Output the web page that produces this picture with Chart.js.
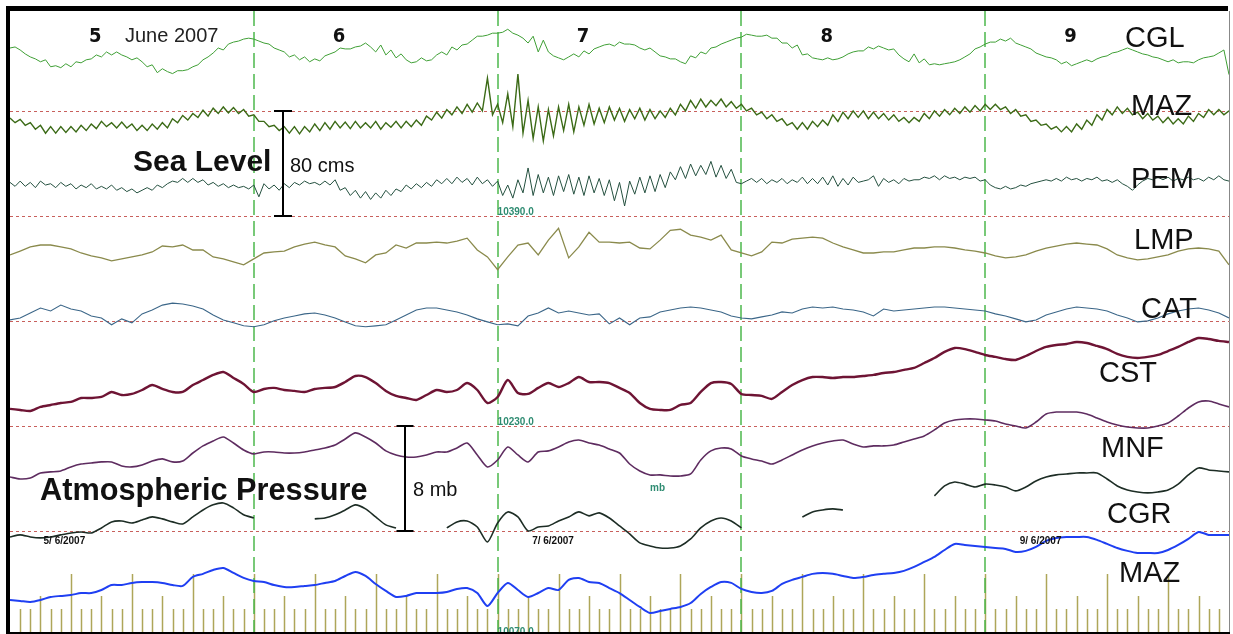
<!DOCTYPE html>
<html>
<head>
<meta charset="utf-8">
<script src="https://cdn.jsdelivr.net/npm/chart.js@4.4.1/dist/chart.umd.min.js"></script>
<style>
  html, body { margin: 0; padding: 0; background: #fff; }
  canvas { display: block; }
</style>
</head>
<body>
<canvas id="c" width="1233" height="634"></canvas>
<script>
// Sea level (cm about each station's mean) and barometric pressure (mb)
// at the tide gauges, 5-9 June 2007. Time runs in hours from 00:00 on 5 June.
const days = [5, 6, 7, 8, 9];
const dayStartsH = [24, 48, 72, 96];
const refLevelsMb = [1015, 1023, 1031, 1039, 1047];
const pressureLabelLevelsMb = [1039, 1023, 1007];
const dateLabels = ['5/ 6/2007', '7/ 6/2007', '9/ 6/2007'];
const dateLabelHours = [3.3, 51.4, 99.4];
const seaStepH = 0.5;
const hourlyStepH = 1;
const cmPerMb = 10;          // 80 cm of sea level drawn as tall as 8 mb

// Sea level, half-hourly, cm
const cglCm = [3,3.8,1.5,-1.5,-3.8,-5.3,-7.5,-6,-11.3,-10.5,
 -12,-9,-11.3,-7.5,-8.3,-6,-5.3,-2.3,-3.8,0,
 -2.3,0,-2.3,-3.8,-6,-4.5,-7.5,-11.3,-9.8,-15.8,
 -12.8,-15,-16.5,-14.3,-14.3,-13.5,-11.3,-9.8,-6,-3.8,
 -0.8,3,1.5,6,7.5,8.3,9.8,10.5,9.8,8.3,
 6.8,6,3,1.5,0,-3.8,-2.3,-6,-3.8,-7.5,
 -5.3,-6.8,-3,-1.5,0,3,2.3,2.3,3.8,4.5,
 6.8,3.8,0,5.3,-2.3,1.5,-4.5,-1.5,-6,-8.3,
 -7.5,-4.5,-6.8,-6,-2.3,0,-2.3,3.8,1.5,5.3,
 6,9,12,12,12.8,14.3,14.3,15,17.3,14.3,
 12.8,10.5,6.8,12,0,9,0,-3,-4.5,-6,
 -3.8,-1.5,-3.8,0.8,-1.5,2.3,3.8,5.3,6,4.5,
 7.5,6,6,5.3,3,1.5,3,0,-3,-3.8,
 -5.3,-5.3,-7.5,-9,-3,-4.5,0,-1.5,3,3.8,
 6,7.5,9,10.5,11.3,13.5,12.8,12,12,12.8,
 10.5,10.5,6.8,6.8,3,5.3,-2.3,-1.5,-4.5,-5.3,
 -6,-4.5,-6,-5.3,-3.8,-1.5,0,0.8,0.8,3.8,
 2.3,4.5,3,1.5,2.3,-2.3,-5.3,-7.5,-1.5,-8.3,
 -5.3,-9.8,-9,-9.8,-9,-8.3,-7.5,-6,-3.8,-1.5,
 2.3,3.8,6,7.5,7.5,9.8,8.3,10.5,6.8,5.3,
 3.8,2.3,-0.8,-2.3,-3.8,-4.5,-6,-9,-7.5,-10.5,
 -9,-7.5,-6,-7.5,-5.3,-3.8,-3,-0.8,0,1.5,
 3,1.5,0,-1.5,-2.3,-3.8,-4.5,-6,-7.5,-6,
 -8.3,-7.5,-7.5,-8.3,-6,-4.5,-3.8,-3,-0.8,1.5,
 -17.3];

const mazCm = [1.5,-2,0.5,-4,-2,-7,-4,-10,-5,-10,
 -5,-9.5,-5,-9,-4,-8,-3,-6.5,-1,-5,
 -2,-6,-1.5,-6,-3,-8,-4,-8,-3,-7,
 -2,-6,1,-2,3.5,0,5,2,7.5,3,
 9,5,10,5.5,9.5,5,8,3,4,-1,
 -1,-5,-4,-8,-5,-10,-5,-10.5,-5,-9,
 -3,-8,-2,-7,-1,-6,-1.5,-6.5,-1,-6,
 -2,-6,-1,-7,-2,-5.5,-1,-6,-1,-5,
 0,-4,3,0,6,1.5,8,4,10,5,
 12,6,13,7,32,4,12,-2,20,-5,
 35,-10,15,-14,10,-16,8,-12,10,-8,
 12,-9,10,-4,12,-3,9,-2,10,0,
 9,-1,8,1,9,0,8,1,7,2,
 9,4,12,7,15,9,16,10,15,11,
 16,10,14,9,12,7,9,4,6,1,
 4,-1,1,-4,-2,-7,-2,-7,-1,-5,
 0,-4,4,-1,6,1,7,2,7,1,
 6,1,5,0,4,-1,2,-2,2,-1,
 5,1,7,3,8,4,9,5,10,6,
 11,7,12,8,12,8,10,5,8,3,
 4,-1,0,-4,-3,-7,-5,-9,-5,-9,
 -3,-7,0,-4,4,0,8,4,10,5,
 9,4,6,1,5,0,3,-2,2,-3,
 1,-3,3,-1,5,2,8,4,8,4,
 7];

const pemCm = [2,-1,3,-1,2,-2,3,0,1,-2,
 2,-1,1,-3,0,-2,1,-3,-1,-3,
 0,-4,-2,-5,-3,-6,-4,-2,-4,0,
 -2,1,3,2,5,2,5,2,4,0,
 2,-1,1,-2,0,-2,-1,-3,0,-9,
 1,-3,0,-4,1,-2,2,0,3,1,
 2,0,3,0,4,-4,-2,-8,-4,-10,
 -5,-11,-6,-10,-4,-8,-3,-5,0,-3,
 1,-2,2,-1,4,1,5,1,6,2,
 5,0,6,1,4,-1,3,-8,0,-10,
 4,-6,13,-8,8,-6,6,-8,7,-5,
 8,-7,6,-8,7,-6,5,-8,4,-12,
 2,-16,3,-7,6,-6,7,-5,8,-2,
 10,4,14,5,16,7,15,8,18,6,
 15,5,12,2,1,3,5,2,5,1,
 4,2,5,1,4,2,6,1,5,1,
 6,0,7,-1,5,0,6,2,3,4,
 7,-1,5,2,4,1,5,3,4,4,
 6,5,7,4,7,5,6,4,6,5,
 6,3,4,0,-2,-3,-1,-3,-2,0,
 -1,1,2,3,4,3,5,3,6,4,
 5,3,5,4,6,3,4,2,4,1,
 -1,-4,0,3,5,4,6,4,6,3,
 5,4,6,4,5,3,6,4,7,4,
 3];

// Sea level, hourly, cm
const lmpCm = [-3.8,-0.8,2.3,3.8,3.8,2.3,0.8,-2.3,-4.5,-6,
 -8.3,-6.8,-5.3,-3.8,-1.5,3,2.3,3.8,0,0,
 -5.3,-6.8,-9,-11.3,-6.8,-2.3,-1.5,-0.8,2.3,4.5,
 6,3.8,2.3,-4.5,-6.8,-9.8,-3.8,-2.3,3.8,1.5,
 5.3,5.3,6,5.3,6.8,9,0,-5.3,-15,-5.3,
 3.8,5.3,-3.8,7.5,16.5,-6,2.3,13.5,6,6,
 5.3,6,1.5,0.8,7.5,15,15.8,11.3,9.8,7.5,
 11.3,0,-2.3,-4.5,-1.5,6,5.3,8.3,9,9.8,
 9,5.3,2.3,0,-2.3,-2.3,-1.5,-1.5,0,1.5,
 1.5,2.3,2.3,1.5,0,-0.8,-2.3,-4.5,-6,-5.3,
 -3.8,-0.8,1.5,3,4.5,5.3,4.5,3.8,0.8,-3.8,
 -6,-7.5,-6.8,-5.3,-3.8,-0.8,0.8,1.5,0.8,-0.8,
 -11.3];

const catCm = [-3.8,-2.3,1.5,5.3,3,7.5,4.5,3,-0.8,-2.3,
 -7.5,-3,-6,0.8,3.8,7.5,9,8.3,6.8,4.5,
 0,-3.8,-6,-8.3,-9,-7.5,-4.5,-2.3,-0.8,0.8,
 1.5,0,-2.3,-5.3,-8.3,-9,-8.3,-7.5,-3.8,0,
 3.8,5.3,5.3,3.8,2.3,0,-3,-5.3,-7.5,-6.8,
 -8.3,-0.8,1.5,5.3,1.5,3,1.5,0,0.8,-6.8,
 -2.3,-7.5,-2.3,-1.5,2.3,3.8,5.3,6,5.3,3.8,
 2.3,-0.8,-2.3,-3,-1.5,0,2.3,1.5,4.5,6,
 5.3,6,4.5,3.8,2.3,-0.8,4.5,3,3.8,4.5,
 5.3,6,6,5.3,4.5,3.8,3,0.8,-0.8,-3,
 -5.3,-3.8,0,2.3,4.5,6,5.3,4.5,3,0,
 -2.3,-5.3,-4.5,-2.3,0.8,3,4.5,5.3,3.8,1.5,
 -2.3];

// Barometric pressure, hourly, mb
const cstMb = [1024.30,1024.22,1024.14,1024.45,1024.60,1024.75,1024.83,1025.13,1025.13,1025.21,
 1025.59,1025.36,1025.44,1025.74,1026.12,1025.82,1025.59,1025.59,1026.12,1026.50,
 1026.89,1027.11,1026.66,1026.20,1025.59,1025.82,1025.90,1025.74,1025.67,1025.59,
 1025.82,1025.90,1025.97,1026.35,1026.81,1026.73,1026.27,1025.67,1025.29,1025.13,
 1024.98,1025.36,1025.74,1025.59,1025.74,1026.27,1025.74,1024.75,1025.21,1026.50,
 1025.51,1025.44,1025.90,1026.27,1025.97,1026.27,1026.73,1026.35,1026.35,1026.27,
 1025.90,1025.51,1024.75,1024.30,1024.22,1024.22,1024.60,1024.75,1025.59,1026.27,
 1026.35,1026.20,1025.44,1025.36,1025.29,1025.06,1025.59,1026.12,1026.50,1026.73,
 1026.73,1026.66,1026.73,1026.73,1026.81,1026.89,1027.04,1027.11,1027.27,1027.42,
 1027.80,1028.18,1028.64,1028.94,1028.86,1028.64,1028.41,1028.26,1028.10,1028.03,
 1028.33,1028.71,1029.02,1029.17,1029.25,1029.40,1029.32,1029.10,1028.86,1028.49,
 1028.26,1028.18,1028.26,1028.41,1028.71,1029.02,1029.40,1029.70,1029.63,1029.48,
 1029.40];

const mnfMb = [1019.11,1018.96,1019.04,1019.42,1019.50,1019.57,1019.88,1020.10,1020.18,1020.26,
 1020.26,1019.95,1019.88,1020.03,1020.33,1020.49,1020.26,1020.33,1020.94,1021.48,
 1021.86,1022.16,1021.70,1021.17,1020.87,1021.02,1021.02,1020.94,1020.94,1021.02,
 1021.17,1021.32,1021.55,1022.01,1022.47,1022.16,1021.70,1021.10,1020.79,1020.64,
 1020.64,1020.79,1021.02,1021.02,1021.32,1021.70,1020.79,1019.88,1020.41,1021.40,
 1020.79,1020.26,1021.02,1021.10,1021.40,1021.78,1021.93,1021.70,1021.55,1021.25,
 1020.94,1020.10,1019.57,1019.27,1019.27,1019.19,1019.19,1019.34,1020.41,1021.10,
 1021.32,1021.25,1020.71,1020.49,1020.33,1020.10,1020.41,1020.79,1021.17,1021.48,
 1021.70,1021.86,1021.93,1021.63,1021.40,1021.48,1021.48,1021.55,1021.78,1022.01,
 1022.24,1022.70,1023.23,1023.46,1023.53,1023.53,1023.46,1023.38,1023.15,1023.00,
 1022.85,1023.30,1023.91,1024.06,1024.06,1024.06,1023.91,1023.61,1023.30,1023.08,
 1022.92,1022.85,1022.85,1023.00,1023.23,1023.76,1024.37,1024.83,1024.90,1024.68,
 1024.45];

// null = no record
const cgrMb = [1014.54,1014.70,1014.54,1014.47,1014.54,1014.70,1014.85,1014.92,1014.85,1015.23,
 1015.69,1015.76,1015.61,1015.84,1016.07,1015.92,1015.69,1015.53,1016.07,1016.60,
 1016.99,1017.13,1016.76,1016.23,1015.99,null,null,null,null,null,
 1015.92,1015.99,1016.23,1016.60,1016.99,1016.68,1016.07,1015.46,1015.23,null,
 null,null,null,1015.23,1015.69,1015.76,1015.30,1014.16,1015.61,1016.45,
 1016.07,1015.00,1015.30,1015.38,1015.76,1016.07,1016.45,1016.15,1016.38,1015.99,
 1015.38,1014.77,1014.09,1013.86,1013.70,1013.70,1013.86,1014.39,1015.23,1015.76,
 1015.99,1015.76,1015.23,null,null,null,null,null,1016.07,1016.45,
 1016.60,1016.68,1016.60,null,null,null,null,null,null,null,
 null,1017.67,1018.43,1018.73,1018.57,1018.35,1018.57,1018.50,1018.35,1018.05,
 1018.35,1018.81,1019.11,1019.27,1019.34,1019.42,1019.42,1019.42,1018.96,1018.43,
 1018.12,1017.97,1017.90,1017.97,1018.12,1018.57,1019.27,1019.80,1019.65,1019.57,
 1019.50];

const mazMb = [1009.74,1009.67,1009.59,1009.74,1009.97,1010.05,1010.12,1010.27,1010.27,1010.50,
 1010.88,1010.88,1011.04,1011.11,1011.11,1011.04,1010.88,1010.81,1011.50,1011.73,
 1012.03,1012.18,1011.80,1011.42,1011.19,1011.11,1010.88,1010.73,1010.73,1010.81,
 1010.88,1011.04,1011.19,1011.57,1011.88,1011.57,1010.96,1010.43,1009.97,1010.05,
 1010.27,1010.27,1010.27,1010.35,1010.58,1010.65,1010.27,1009.28,1010.27,1011.04,
 1010.50,1009.97,1010.27,1010.65,1010.50,1011.27,1011.42,1011.11,1011.04,1010.65,
 1010.27,1009.74,1009.21,1008.75,1008.90,1009.06,1009.21,1009.51,1010.20,1010.73,
 1011.11,1011.04,1010.58,1010.35,1010.27,1010.43,1010.96,1011.27,1011.50,1011.73,
 1011.80,1011.73,1011.57,1011.42,1011.50,1011.65,1011.73,1011.80,1011.96,1012.26,
 1012.64,1013.02,1013.55,1014.01,1013.93,1013.86,1013.78,1013.70,1013.63,1013.40,
 1013.48,1013.78,1014.24,1014.47,1014.54,1014.54,1014.54,1014.32,1014.01,1013.70,
 1013.48,1013.32,1013.32,1013.32,1013.55,1013.93,1014.39,1014.92,1014.70,1014.70,
 1014.70];

// Each sea-level trace hangs from its own datum on the shared mb axis.
const seaTraces = [
  { name: 'CGL', values: cglCm, step: seaStepH,    datum: 1051.5,  color: '#3f9f35', width: 1 },
  { name: 'MAZ', values: mazCm, step: seaStepH,    datum: 1046.31, color: '#3b6a16', width: 1.4 },
  { name: 'PEM', values: pemCm, step: seaStepH,    datum: 1041.36, color: '#24503f', width: 1 },
  { name: 'LMP', values: lmpCm, step: hourlyStepH, datum: 1036.41, color: '#8a8a4c', width: 1.3 },
  { name: 'CAT', values: catCm, step: hourlyStepH, datum: 1031.46, color: '#3b6688', width: 1.1 }
];
const baroTraces = [
  { name: 'CST', values: cstMb, step: hourlyStepH, color: '#6e1434', width: 2.4 },
  { name: 'MNF', values: mnfMb, step: hourlyStepH, color: '#5e2c60', width: 1.6 },
  { name: 'CGR', values: cgrMb, step: hourlyStepH, color: '#1d2d25', width: 1.6 },
  { name: 'MAZ', values: mazMb, step: hourlyStepH, color: '#1f3ff2', width: 2 }
];

const stationLabels = [
  ['CGL', 1125, 47], ['MAZ', 1131, 115], ['PEM', 1131, 188], ['LMP', 1134, 249],
  ['CAT', 1141, 318], ['CST', 1099, 382], ['MNF', 1101, 457], ['CGR', 1107, 523],
  ['MAZ', 1119, 582]
];

const datasets = [
  ...seaTraces.map(t => ({
    label: t.name,
    data: t.values.map((v, i) => ({ x: i * t.step, y: t.datum + v / cmPerMb })),
    borderColor: t.color, borderWidth: t.width, tension: 0
  })),
  ...baroTraces.map(t => ({
    label: t.name,
    data: t.values.map((v, i) => ({ x: i * t.step, y: v })),
    borderColor: t.color, borderWidth: t.width, tension: 0.25
  }))
].map(d => Object.assign(d, { pointRadius: 0, spanGaps: false, fill: false }));

const FONT = '"Liberation Sans", Arial, sans-serif';

const decor = {
  id: 'decor',
  beforeDatasetsDraw(chart) {
    const { ctx, chartArea: a, scales: { x, y } } = chart;
    ctx.save();
    // hour ticks along the bottom edge: tall every 6 h, medium every 3 h
    ctx.strokeStyle = 'rgba(160,150,60,0.85)';
    ctx.lineWidth = 1.5;
    for (let h = 1; h < 120; h++) {
      const px = Math.round(x.getPixelForValue(h)) + 0.5;
      const len = h % 6 === 0 ? 58 : (h % 3 === 0 ? 36 : 23);
      ctx.beginPath();
      ctx.moveTo(px, a.bottom - len);
      ctx.lineTo(px, a.bottom);
      ctx.stroke();
    }
    // reference levels
    ctx.strokeStyle = '#c8605c';
    ctx.lineWidth = 1;
    ctx.setLineDash([3, 3]);
    refLevelsMb.forEach(v => {
      const py = Math.round(y.getPixelForValue(v)) + 0.5;
      ctx.beginPath();
      ctx.moveTo(a.left, py);
      ctx.lineTo(a.right, py);
      ctx.stroke();
    });
    // midnight separators
    ctx.strokeStyle = '#4cb84c';
    ctx.lineWidth = 1.5;
    ctx.setLineDash([15, 6]);
    dayStartsH.forEach(h => {
      const px = Math.round(x.getPixelForValue(h));
      ctx.beginPath();
      ctx.moveTo(px, a.top);
      ctx.lineTo(px, a.bottom);
      ctx.stroke();
    });
    ctx.restore();
  },
  afterDatasetsDraw(chart) {
    const { ctx, chartArea: a, scales: { x, y } } = chart;
    ctx.save();
    ctx.textBaseline = 'alphabetic';

    // day numbers and month
    ctx.fillStyle = '#111';
    ctx.textAlign = 'center';
    ctx.font = 'bold 20px "Liberation Sans Narrow", "DejaVu Sans Condensed", ' + FONT;
    days.forEach((d, i) => ctx.fillText(String(d), x.getPixelForValue(24 * i + 8.4), 42));
    ctx.textAlign = 'left';
    ctx.font = '20px ' + FONT;
    ctx.fillStyle = '#222';
    ctx.fillText('June 2007', 125, 42);

    // pressure values of the reference levels
    ctx.font = 'bold 10px ' + FONT;
    ctx.fillStyle = '#2f8c72';
    pressureLabelLevelsMb.forEach(v => {
      ctx.fillText((v * 10).toFixed(1), x.getPixelForValue(48), y.getPixelForValue(v) - 0.5);
    });
    ctx.fillText('mb', 650, 491);

    // record dates
    ctx.fillStyle = '#111';
    dateLabels.forEach((t, i) => ctx.fillText(t, x.getPixelForValue(dateLabelHours[i]), 544));

    // station names
    ctx.font = '29px ' + FONT;
    ctx.fillStyle = '#111';
    stationLabels.forEach(([t, px, py]) => ctx.fillText(t, px, py));

    // scale bars: 80 cm of sea level and 8 mb of pressure
    ctx.strokeStyle = '#000';
    ctx.lineWidth = 2;
    const bar = (hx, lo, hi, half) => {
      const px = Math.round(x.getPixelForValue(hx));
      const y0 = y.getPixelForValue(lo), y1 = y.getPixelForValue(hi);
      ctx.beginPath();
      ctx.moveTo(px, y0); ctx.lineTo(px, y1);
      ctx.moveTo(px - half, y0); ctx.lineTo(px + half, y0);
      ctx.moveTo(px - half, y1); ctx.lineTo(px + half, y1);
      ctx.stroke();
    };
    bar(26.9, 1039, 1039 + 80 / cmPerMb, 9);
    bar(38.9, 1015, 1023, 8.5);

    ctx.font = 'bold 30px ' + FONT;
    ctx.fillText('Sea Level', 133, 171);
    ctx.font = 'bold 30.7px ' + FONT;
    ctx.fillText('Atmospheric Pressure', 40, 500);
    ctx.font = '20px ' + FONT;
    ctx.fillText('80 cms', 290, 172);
    ctx.fillText('8 mb', 413, 496);

    // frame
    ctx.fillStyle = '#000';
    ctx.fillRect(a.left - 4, a.top - 5, a.right - a.left + 3, 5);
    ctx.fillRect(a.left - 4, a.top - 5, 4, a.bottom - a.top + 7);
    ctx.fillRect(a.left - 4, a.bottom, a.right - a.left + 5, 2);
    ctx.strokeStyle = '#888';
    ctx.lineWidth = 1;
    ctx.beginPath();
    ctx.moveTo(a.right + 0.5, a.top);
    ctx.lineTo(a.right + 0.5, a.bottom);
    ctx.stroke();
    ctx.restore();
  }
};

new Chart(document.getElementById('c'), {
  type: 'line',
  data: { datasets },
  options: {
    responsive: false,
    devicePixelRatio: 1,
    animation: false,
    events: [],
    layout: { padding: { left: 10, top: 11, right: 4, bottom: 2 } },
    plugins: { legend: { display: false }, tooltip: { enabled: false } },
    scales: {
      x: { type: 'linear', min: 0, max: 120, display: false },
      y: { type: 'linear', min: 1007.3, max: 1054.62, display: false }
    }
  },
  plugins: [decor]
});
</script>
</body>
</html>
